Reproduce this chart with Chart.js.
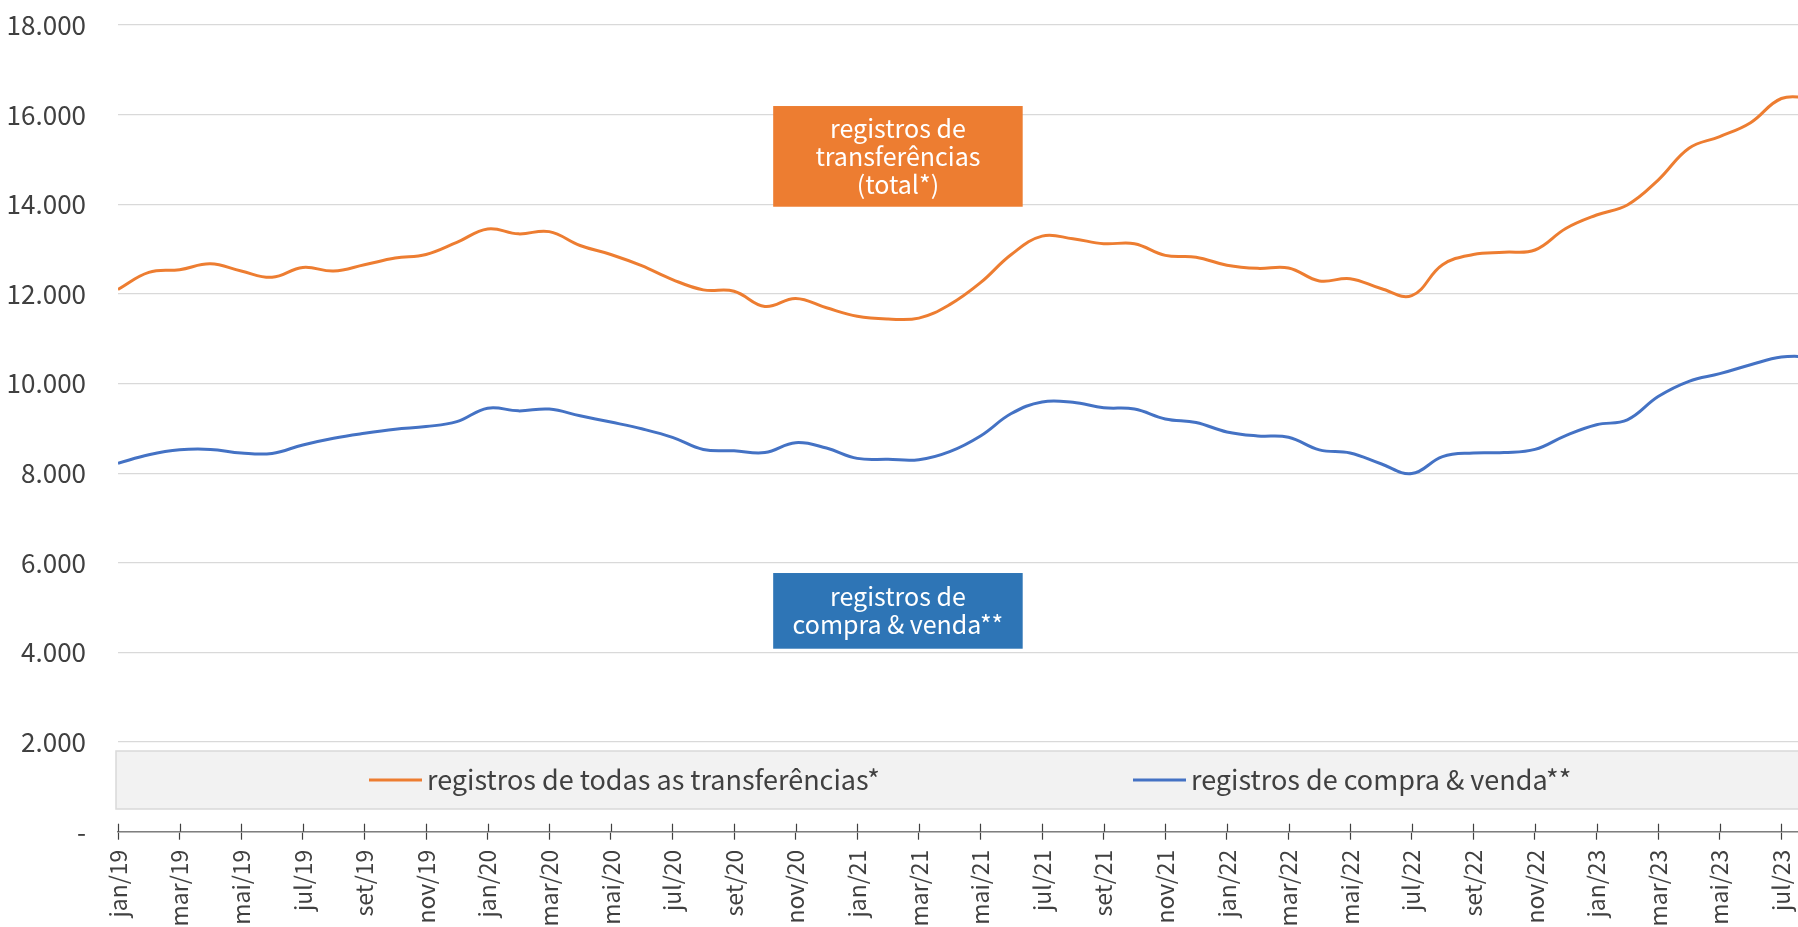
<!DOCTYPE html>
<html>
<head>
<meta charset="utf-8">
<script src="https://cdn.jsdelivr.net/npm/chart.js@4/dist/chart.umd.min.js"></script>
<style>
html,body{margin:0;padding:0;background:#fff;overflow:hidden}
#wrap{width:1798px;height:927px;position:relative}
</style>
</head>
<body>
<div id="wrap"><canvas id="c" width="1798" height="927"></canvas></div>
<script>
// ---- data ----
const months = [
  'jan/19','fev/19','mar/19','abr/19','mai/19','jun/19','jul/19','ago/19','set/19','out/19','nov/19','dez/19',
  'jan/20','fev/20','mar/20','abr/20','mai/20','jun/20','jul/20','ago/20','set/20','out/20','nov/20','dez/20',
  'jan/21','fev/21','mar/21','abr/21','mai/21','jun/21','jul/21','ago/21','set/21','out/21','nov/21','dez/21',
  'jan/22','fev/22','mar/22','abr/22','mai/22','jun/22','jul/22','ago/22','set/22','out/22','nov/22','dez/22',
  'jan/23','fev/23','mar/23','abr/23','mai/23','jun/23','jul/23','ago/23'
];
const totalTransfers = [
  12100,12480,12540,12670,12510,12370,12590,12510,12650,12800,12880,13150,
  13450,13340,13390,13080,12880,12630,12320,12090,12060,11720,11900,11690,
  11500,11440,11460,11760,12250,12880,13290,13230,13120,13120,12860,12820,
  12640,12570,12580,12290,12340,12120,11960,12650,12880,12930,12980,13460,
  13760,13985,14540,15250,15510,15820,16360,16370
];
const purchaseSales = [
  8220,8410,8520,8530,8450,8440,8630,8780,8890,8980,9040,9150,
  9450,9390,9430,9280,9140,8990,8800,8530,8500,8460,8680,8560,
  8330,8310,8300,8480,8830,9330,9590,9580,9460,9430,9210,9130,
  8920,8830,8800,8520,8450,8210,7990,8370,8450,8460,8530,8840,
  9080,9190,9710,10050,10220,10420,10590,10600
];
const seriesNames = ['registros de todas as transferências*','registros de compra & venda**'];
const yTickValues = [0,2000,4000,6000,8000,10000,12000,14000,16000,18000];
const xTickIndices = [0,2,4,6,8,10,12,14,16,18,20,22,24,26,28,30,32,34,36,38,40,42,44,46,48,50,52,54];
const boxTexts = [['registros de','transferências','(total*)'],['registros de','compra & venda**']];

// ---- styling / placement (not data) ----
const COLORS = {orange:'#ED7D31', blue:'#4472C4', boxOrange:'#ED7D31', boxBlue:'#2E75B6', text:'#404040'};
const FONT = '"Noto Sans CJK JP","Noto Sans",sans-serif';
const boxPlacement = [
  {xMin:21.27, xMax:29.37, yMin:13945, yMax:16192, color:COLORS.boxOrange, text:boxTexts[0]},
  {xMin:21.27, xMax:29.37, yMin:4083,  yMax:5772,  color:COLORS.boxBlue,   text:boxTexts[1]}
];

function fmt(v){ return v===0 ? '-' : String(v).replace(/\B(?=(\d{3})+(?!\d))/g,'.'); }

const decor = {
  id:'decor',
  afterDraw(chart){
    const {ctx, chartArea, scales:{x,y}} = chart;
    ctx.save();
    // tick marks crossing above the axis
    ctx.strokeStyle = '#404040'; ctx.lineWidth = 1.2;
    x.ticks.forEach(t=>{
      const px = Math.round(x.getPixelForValue(t.value))+0.5;
      ctx.beginPath(); ctx.moveTo(px, chartArea.bottom-8); ctx.lineTo(px, chartArea.bottom); ctx.stroke();
    });
    // legend box
    const lt = 751, lh = 58;
    ctx.fillStyle = '#f2f2f2'; ctx.fillRect(chartArea.left-2, lt, 1800-chartArea.left+10, lh);
    ctx.strokeStyle = '#d9d9d9'; ctx.lineWidth = 1.5; ctx.strokeRect(chartArea.left-2, lt, 1800-chartArea.left+10, lh);
    const cy = lt + lh/2;
    const items = [{x:369, ds:chart.data.datasets[0]},{x:1133, ds:chart.data.datasets[1]}];
    ctx.font = '27px ' + FONT; ctx.textBaseline = 'middle'; ctx.textAlign = 'left';
    items.forEach(it=>{
      ctx.strokeStyle = it.ds.borderColor; ctx.lineWidth = 3;
      ctx.beginPath(); ctx.moveTo(it.x, cy); ctx.lineTo(it.x+53, cy); ctx.stroke();
      ctx.fillStyle = COLORS.text; ctx.fillText(it.ds.label, it.x+58, cy);
    });
    // annotation boxes
    boxPlacement.forEach(b=>{
      const l = x.getPixelForValue(b.xMin), r = x.getPixelForValue(b.xMax);
      const t = y.getPixelForValue(b.yMax), bt = y.getPixelForValue(b.yMin);
      ctx.fillStyle = b.color; ctx.fillRect(l, t, r-l, bt-t);
      ctx.fillStyle = '#ffffff'; ctx.font = '25px ' + FONT; ctx.textAlign = 'center'; ctx.textBaseline = 'middle';
      const c = (t+bt)/2, lhh = 28;
      b.text.forEach((ln,i)=> ctx.fillText(ln, (l+r)/2, c + (i-(b.text.length-1)/2)*lhh));
    });
    ctx.restore();
  }
};

new Chart(document.getElementById('c'), {
  type:'line',
  data:{
    datasets:[
      {label:seriesNames[0], data: totalTransfers.map((v,i)=>({x:i,y:v})), borderColor:COLORS.orange, backgroundColor:COLORS.orange, borderWidth:3, pointRadius:0, tension:0.4, fill:false},
      {label:seriesNames[1], data: purchaseSales.map((v,i)=>({x:i,y:v})), borderColor:COLORS.blue, backgroundColor:COLORS.blue, borderWidth:3, pointRadius:0, tension:0.4, fill:false}
    ]
  },
  options:{
    responsive:false, animation:false, devicePixelRatio:1,
    layout:{padding:{top:25,left:0,right:0,bottom:0}},
    plugins:{legend:{display:false}, tooltip:{enabled:false}},
    scales:{
      x:{
        type:'linear', min:0, max:54.54,
        afterBuildTicks(s){ s.ticks = xTickIndices.map(v=>({value:v})); },
        afterFit(s){ s.height = 95.3; s.paddingLeft = 0; s.paddingRight = 0; },
        ticks:{ autoSkip:false, minRotation:90, maxRotation:90, padding:10, color:COLORS.text,
          font:{family:FONT, size:23}, callback:(v)=>months[v] },
        grid:{ display:true, drawOnChartArea:false, drawTicks:true, tickLength:8, tickColor:'#404040', tickWidth:1.2 },
        border:{ display:true, color:'#7f7f7f', width:1.5 }
      },
      y:{
        min:0, max:18000,
        afterBuildTicks(s){ s.ticks = yTickValues.map(v=>({value:v})); },
        afterFit(s){ s.width = 118; s.paddingTop = 0; s.paddingBottom = 0; },
        ticks:{ padding:32, color:COLORS.text, font:{family:FONT, size:26}, callback:(v)=>fmt(v) },
        grid:{ color:'#d9d9d9', lineWidth:1.3, drawTicks:false },
        border:{ display:false }
      }
    }
  },
  plugins:[decor]
});
</script>
</body>
</html>
